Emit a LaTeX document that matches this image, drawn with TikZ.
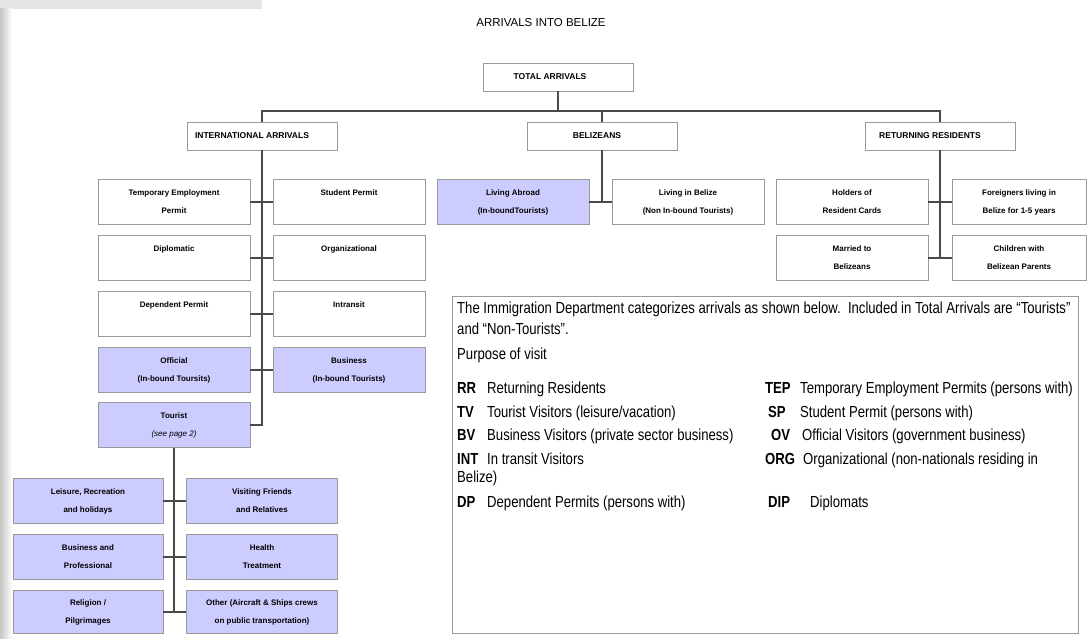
\documentclass[tikz,border=0pt]{standalone}
\usepackage{fontspec}
\setmainfont{Liberation Sans}
\newfontfamily\legendfont[FakeStretch=0.82]{Liberation Sans}
\definecolor{tourblue}{HTML}{CCCCFF}
\definecolor{boxline}{HTML}{9A9A9A}
\definecolor{linkgray}{HTML}{4A4A4A}
\begin{document}
\begin{tikzpicture}[x=1pt,y=-1pt,
  catbox/.style={draw=boxline, line width=0.8pt, fill=white, minimum width=152pt, minimum height=45pt,
    inner sep=0pt, align=center, font=\fontsize{8}{18}\selectfont\bfseries},
  headbox/.style={draw=boxline, line width=0.8pt, fill=white, minimum width=150pt, minimum height=28pt,
    inner sep=0pt, font=\fontsize{8.5}{10}\selectfont\bfseries},
  tourbox/.style={catbox, fill=tourblue},
  link/.style={draw=linkgray, line width=1.3pt},
  legcode/.style={anchor=base west, inner sep=0pt, font=\legendfont\fontsize{16}{18}\selectfont\bfseries},
  legtext/.style={anchor=base west, inner sep=0pt, font=\legendfont\fontsize{16}{18}\selectfont}]
  \useasboundingbox (0,0) rectangle (1091,639);
  % page frame
  \fill[gray!20] (0,0) rectangle (262,9);
  \shade[left color=gray!45, right color=white] (0,9) rectangle (12,639);

  \node[font=\fontsize{11.5}{13}\selectfont] (title) at (541,23) {ARRIVALS INTO BELIZE};
  \node[headbox] (total) at (558,77) {TOTAL ARRIVALS\hspace*{16pt}};
  \node[headbox] (intl) at (262,136) {INTERNATIONAL ARRIVALS\hspace*{20pt}};
  \node[headbox] (beliz) at (602,136) {BELIZEANS\hspace*{10pt}};
  \node[headbox] (retres) at (940,136) {RETURNING RESIDENTS\hspace*{20pt}};
  \coordinate (hub) at (558,111);
  \draw[link] (total) -- (hub);
  \draw[link] (intl.north) |- (hub) -| (retres.north);
  \draw[link] (beliz.north) -- (beliz.north |- hub);

  % international arrivals
  \node[catbox] (tep) at (174,202) {Temporary Employment\\Permit};
  \node[catbox] (sp) at (349,202) {Student Permit\\\mbox{}};
  \node[catbox] (dip) at (174,258) {Diplomatic\\\mbox{}};
  \node[catbox] (org) at (349,258) {Organizational\\\mbox{}};
  \node[catbox] (dep) at (174,314) {Dependent Permit\\\mbox{}};
  \node[catbox] (intr) at (349,314) {Intransit\\\mbox{}};
  \node[tourbox] (off) at (174,370) {Official\\(In-bound Toursits)};
  \node[tourbox] (bus) at (349,370) {Business\\(In-bound Tourists)};
  \node[tourbox] (tour) at (174,425) {Tourist\\{\mdseries\itshape (see page 2)}};
  \draw[link] (intl.south) |- (tour.east);
  \draw[link] (tep.east) -- (sp.west);
  \draw[link] (dip.east) -- (org.west);
  \draw[link] (dep.east) -- (intr.west);
  \draw[link] (off.east) -- (bus.west);

  % belizeans
  \node[tourbox] (abroad) at (513,202) {Living Abroad\\(In-boundTourists)};
  \node[catbox] (home) at (688,202) {Living in Belize\\(Non In-bound Tourists)};
  \draw[link] (beliz.south) -- (beliz.south |- abroad.east);
  \draw[link] (abroad.east) -- (home.west);

  % returning residents
  \node[catbox] (cards) at (852,202) {Holders of\\Resident Cards};
  \node[catbox, minimum width=134pt] (foreign) at (1019,202) {Foreigners living in\\Belize for 1-5 years};
  \node[catbox] (married) at (852,258) {Married to\\Belizeans};
  \node[catbox, minimum width=134pt] (children) at (1019,258) {Children with\\Belizean Parents};
  \draw[link] (retres.south) -- (retres.south |- married.east);
  \draw[link] (cards.east) -- (foreign.west);
  \draw[link] (married.east) -- (children.west);

  % purpose of tourist visits
  \node[tourbox, minimum width=150pt] (leis) at (88,501) {Leisure, Recreation\\and holidays};
  \node[tourbox, minimum width=151pt] (vfr) at (262,501) {Visiting Friends\\and Relatives};
  \node[tourbox, minimum width=150pt] (prof) at (88,557) {Business and\\Professional};
  \node[tourbox, minimum width=151pt] (health) at (262,557) {Health\\Treatment};
  \node[tourbox, minimum width=150pt, minimum height=43pt] (relig) at (88,612) {Religion /\\Pilgrimages};
  \node[tourbox, minimum width=151pt, minimum height=43pt] (other) at (262,612) {Other (Aircraft \& Ships crews\\on public transportation)};
  \draw[link] (tour.south) -- (tour.south |- relig.east);
  \draw[link] (leis.east) -- (vfr.west);
  \draw[link] (prof.east) -- (health.west);
  \draw[link] (relig.east) -- (other.west);

  % legend
  \node[draw=boxline, line width=1pt, minimum width=626pt, minimum height=337pt, inner sep=0pt] (legend) at (765,464.5) {};
  \node[legtext] (intro1) at (457,313) {The Immigration Department categorizes arrivals as shown below.\ \ Included in Total Arrivals are “Tourists”};
  \node[legtext] (intro2) at (457,334) {and “Non-Tourists”.};
  \node[legtext] (purpose) at (457,359) {Purpose of visit};
  \node[legcode] (rr) at (457,393) {RR};
  \node[legtext] (rrtext) at (487,393) {Returning Residents};
  \node[legcode] (tv) at (457,417) {TV};
  \node[legtext] (tvtext) at (487,417) {Tourist Visitors (leisure/vacation)};
  \node[legcode] (bv) at (457,440) {BV};
  \node[legtext] (bvtext) at (487,440) {Business Visitors (private sector business)};
  \node[legcode] (int) at (457,464) {INT};
  \node[legtext] (inttext) at (487,464) {In transit Visitors};
  \node[legtext] (intwrap) at (457,482) {Belize)};
  \node[legcode] (dp) at (457,507) {DP};
  \node[legtext] (dptext) at (487,507) {Dependent Permits (persons with)};
  \node[legcode] (tepc) at (765,393) {TEP};
  \node[legtext] (teptext) at (800,393) {Temporary Employment Permits (persons with)};
  \node[legcode] (spc) at (768,417) {SP};
  \node[legtext] (sptext) at (800,417) {Student Permit (persons with)};
  \node[legcode] (ovc) at (771,440) {OV};
  \node[legtext] (ovtext) at (802,440) {Official Visitors (government business)};
  \node[legcode] (orgc) at (765,464) {ORG};
  \node[legtext] (orgtext) at (803,464) {Organizational (non-nationals residing in};
  \node[legcode] (dipc) at (768,507) {DIP};
  \node[legtext] (diptext) at (810,507) {Diplomats};
\end{tikzpicture}
\end{document}
